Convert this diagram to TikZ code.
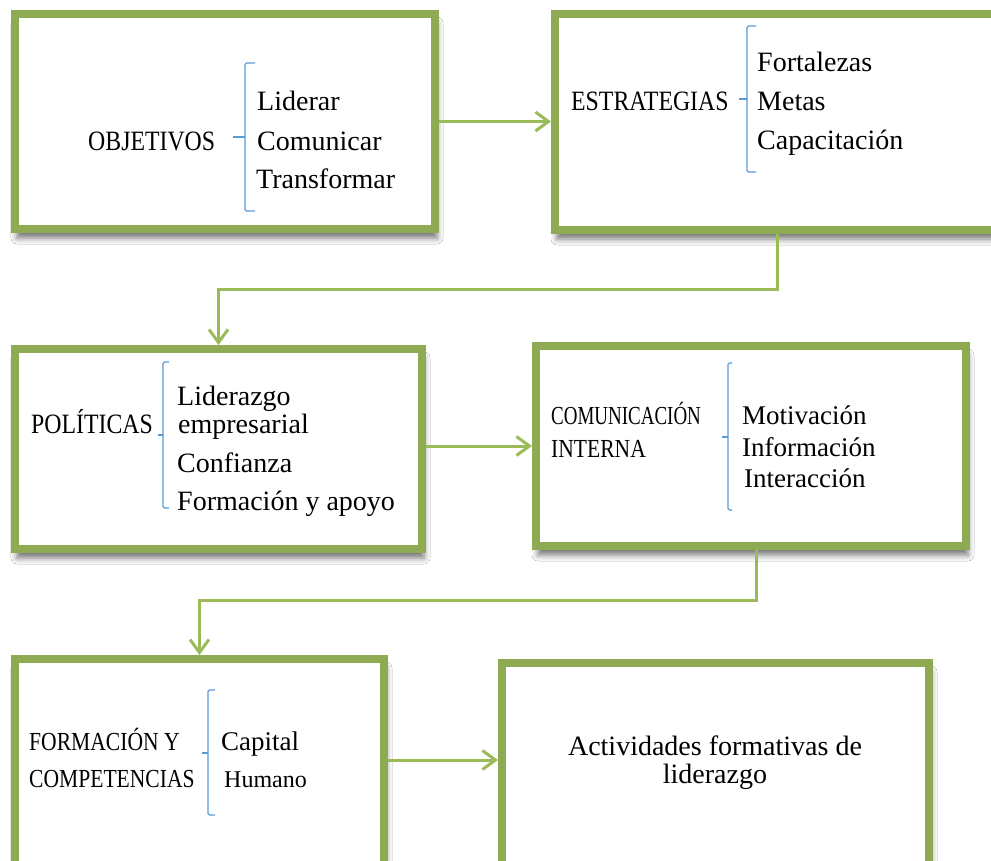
\documentclass[tikz,border=0pt]{standalone}
\usepackage{fontspec}
\setmainfont{Liberation Serif}
\newfontfamily\capf[FakeStretch=0.85]{Liberation Serif}
\newfontfamily\capm[FakeStretch=0.83]{Liberation Serif}
\newfontfamily\capn[FakeStretch=0.73]{Liberation Serif}
\usetikzlibrary{arrows.meta,shadows.blur}
\definecolor{boxgreen}{RGB}{142,170,82}
\definecolor{linegreen}{RGB}{155,187,89}
\definecolor{braceblue}{RGB}{91,155,213}
\begin{document}
\begin{tikzpicture}[x=1pt,y=-1pt,
  box/.style={draw=boxgreen, line width=8pt, fill=white, rectangle, inner sep=0pt,
    blur shadow={shadow xshift=2pt, shadow yshift=-9pt, shadow blur radius=6pt, shadow opacity=55}},
  conn/.style={draw=linegreen, line width=3pt, -{Straight Barb[length=13pt,width=19pt]}},
  brace/.style={draw=braceblue, line width=1.4pt, rounded corners=1.5pt},
  txt/.style={anchor=base west, inner sep=0pt, font=\fontsize{28}{34}\selectfont},
  txts/.style={anchor=base west, inner sep=0pt, font=\fontsize{27}{32}\selectfont},
  lbl/.style={anchor=base west, inner sep=0pt, font=\capf\fontsize{28}{32}\selectfont},
  lbls/.style={anchor=base west, inner sep=0pt, font=\capm\fontsize{26}{30}\selectfont},
]
\useasboundingbox[fill=white] (0,0) rectangle (991,861);

% boxes
\node[box, minimum width=420pt, minimum height=215pt] (b1) at (225,121.5) {};
\node[box, minimum width=445pt, minimum height=216pt] (b2) at (777.5,122) {};
\node[box, minimum width=407pt, minimum height=200pt] (b3) at (218.5,449) {};
\node[box, minimum width=430pt, minimum height=200pt] (b4) at (751,446) {};
\node[box, minimum width=369pt, minimum height=211pt] (b5) at (199.5,764.5) {};
\node[box, minimum width=427pt, minimum height=207pt] (b6) at (715.5,766.5) {};

% connectors
\coordinate (k1) at (218.5,289);
\coordinate (k2) at (199.5,600);
\draw[conn] (b1.east) -- (b1.east -| b2.west);
\draw[conn] (b2.south) |- (k1) -- (b3.north);
\draw[conn] (b3.east |- b4.west) -- (b4.west);
\draw[conn] ([xshift=5pt]b4.south) |- (k2) -- (b5.north);
\draw[conn] ([yshift=4.5pt]b5.east) -- ([yshift=4.5pt]b5.east -| b6.west);

% braces
\draw[brace] (255,63) -- (245,63) -- (245,211) -- (255,211);
\draw[brace] (245,137) -- (233,137);
\draw[brace] (756,26) -- (747,26) -- (747,172) -- (756,172);
\draw[brace] (747,99) -- (739,99);
\draw[brace] (169,362) -- (163,362) -- (163,508) -- (169,508);
\draw[brace] (163,435) -- (158,435);
\draw[brace] (732,363) -- (728,363) -- (728,510) -- (732,510);
\draw[brace] (728,437) -- (722,437);
\draw[brace] (215,690) -- (208,690) -- (208,815) -- (215,815);
\draw[brace] (208,753) -- (202,753);

% box 1
\node[lbl] (t1) at (88,151) {OBJETIVOS};
\node[txt] (t1a) at (257,111) {Liderar};
\node[txt] (t1b) at (257,151) {Comunicar};
\node[txt] (t1c) at (256,189) {Transformar};

% box 2
\node[lbl] (t2) at (571,111) {ESTRATEGIAS};
\node[txt] (t2a) at (757,72) {Fortalezas};
\node[txt] (t2b) at (757,111) {Metas};
\node[txt] (t2c) at (757,150) {Capacitación};

% box 3
\node[lbl] (t3) at (31,433) {POLÍTICAS};
\node[txt] (t3a) at (177,405) {Liderazgo};
\node[txt] (t3b) at (178,433) {empresarial};
\node[txt] (t3c) at (177,472) {Confianza};
\node[txt] (t3d) at (177,510) {Formación y apoyo};

% box 4
\node[anchor=base west, inner sep=0pt, font=\capn\fontsize{26}{30}\selectfont] (t4) at (551,424) {COMUNICACIÓN};
\node[lbls] (t4b) at (551,457) {INTERNA};
\node[txts] (t4c) at (742,424) {Motivación};
\node[txts] (t4d) at (742,456) {Información};
\node[txts] (t4e) at (744,487) {Interacción};

% box 5
\node[lbls] (t5) at (29,750) {FORMACIÓN Y};
\node[lbls] (t5b) at (29,787) {COMPETENCIAS};
\node[txts] (t5c) at (221,750) {Capital};
\node[anchor=base west, inner sep=0pt, font=\fontsize{24}{28}\selectfont] (t5d) at (224,787) {Humano};

% box 6
\node[anchor=base, inner sep=0pt, font=\fontsize{28}{34}\selectfont] (t6) at (715,755) {Actividades formativas de};
\node[anchor=base, inner sep=0pt, font=\fontsize{28}{34}\selectfont] (t6b) at (715,783) {liderazgo};
\end{tikzpicture}
\end{document}
